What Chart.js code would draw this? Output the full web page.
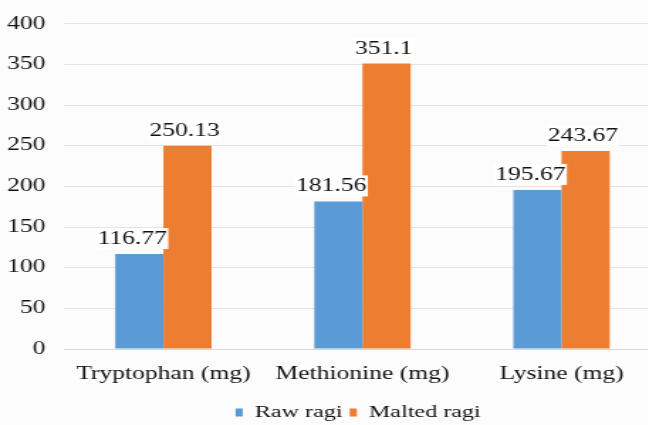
<!DOCTYPE html>
<html>
<head>
<meta charset="utf-8">
<script src="https://cdn.jsdelivr.net/npm/chart.js@4"></script>
<style>
  html, body { margin: 0; padding: 0; background: #fcfcfc; overflow: hidden; width: 648px; height: 425px; }
  #wrap { position: absolute; left: 0; top: 0; width: 507px; height: 425px; transform: scaleX(1.42); transform-origin: 0 0; }
</style>
</head>
<body>
<div id="wrap"><canvas id="c"></canvas></div>
<script>
const categories = ['Tryptophan (mg)', 'Methionine (mg)', 'Lysine (mg)'];
const rawRagi = [116.77, 181.56, 195.67];
const maltedRagi = [250.13, 351.1, 243.67];
const seriesNames = ['Raw ragi', 'Malted ragi'];
const yTicks = [0, 50, 100, 150, 200, 250, 300, 350, 400];

const SERIF = "'Liberation Serif', 'Times New Roman', serif";
const INK = '#111111';

// Value labels above each bar, on a white backing
const valueLabels = {
  id: 'valueLabels',
  afterDatasetsDraw(chart) {
    const ctx = chart.ctx;
    ctx.save();
    ctx.font = '18px ' + SERIF;
    ctx.textAlign = 'center';
    ctx.textBaseline = 'alphabetic';
    chart.data.datasets.forEach((ds, di) => {
      chart.getDatasetMeta(di).data.forEach((bar, i) => {
        const txt = String(ds.data[i]);
        const w = ctx.measureText(txt).width;
        const x = bar.x - (di === 0 ? 5 : 2);
        const y = bar.y - 10;
        ctx.fillStyle = '#ffffff';
        ctx.fillRect(x - w / 2 - 1, y - 16, w + 2, 21);
        ctx.fillStyle = INK;
        ctx.fillText(txt, x, y);
      });
    });
    ctx.restore();
  }
};

// Centre the legend row under the whole figure and drop it a little lower
const legendPlace = {
  id: 'legendPlace',
  afterLayout(chart) {
    const lg = chart.legend;
    if (!lg) return;
    lg.left = 39;
    lg.top += 6;
    lg.bottom += 6;
  }
};

new Chart(document.getElementById('c'), {
  type: 'bar',
  data: {
    labels: categories,
    datasets: [
      { label: seriesNames[0], data: rawRagi, backgroundColor: '#5b9bd5' },
      { label: seriesNames[1], data: maltedRagi, backgroundColor: '#ed7d31' }
    ]
  },
  options: {
    responsive: true,
    maintainAspectRatio: false,
    animation: false,
    devicePixelRatio: 1,
    layout: { padding: { top: 21, left: 0, right: 41.5, bottom: 0 } },
    datasets: { bar: { categoryPercentage: 0.484, barPercentage: 1 } },
    scales: {
      y: {
        min: 0, max: 400,
        afterBuildTicks(scale) { scale.ticks = yTicks.map(v => ({ value: v })); },
        afterFit(scale) { scale.width = 45; },
        ticks: { padding: 13, color: INK, font: { family: SERIF, size: 18 } },
        grid: { color: '#e4e4e4', drawTicks: false },
        border: { display: false }
      },
      x: {
        afterFit(scale) { scale.height = 44; },
        ticks: { padding: 14, color: INK, font: { family: SERIF, size: 18 } },
        grid: { display: false, drawTicks: false },
        border: { display: true, color: '#d9d9d9' }
      }
    },
    plugins: {
      legend: {
        position: 'bottom',
        labels: {
          color: INK,
          font: { family: SERIF, size: 17 },
          boxWidth: 5, boxHeight: 8, padding: 5
        }
      },
      tooltip: { enabled: false }
    }
  },
  plugins: [valueLabels, legendPlace]
});
</script>
</body>
</html>
